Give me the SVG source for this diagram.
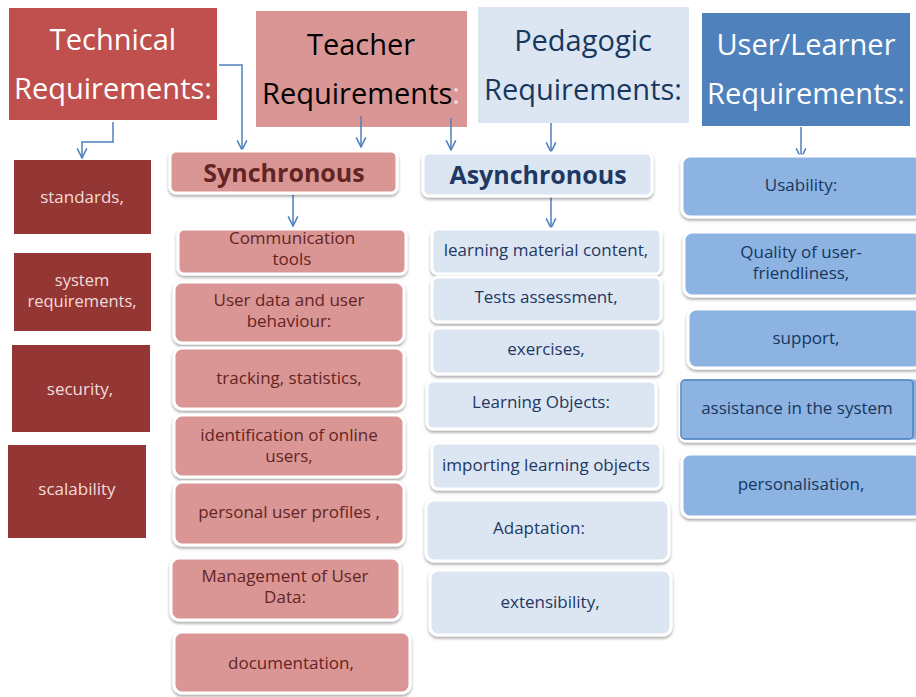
<svg xmlns="http://www.w3.org/2000/svg" width="916" height="697" viewBox="0 0 916 697">
<defs>
<filter id="sh" x="-10%" y="-10%" width="120%" height="130%">
<feDropShadow dx="0" dy="2" stdDeviation="1.5" flood-color="#000" flood-opacity="0.35"/>
</filter>
<marker id="arr" viewBox="0 0 10 10" refX="9" refY="5" markerWidth="12" markerHeight="12" orient="auto" markerUnits="userSpaceOnUse">
<path d="M1,1 L9,5 L1,9" fill="none" stroke="#4f81bd" stroke-width="1.3"/>
</marker>
<style>
text{font-family:"Open Sans","Liberation Sans",sans-serif;text-anchor:middle}
.hd{font-size:29px}
.it{font-size:17px}
.tech rect{fill:#943634}
.tech text{fill:#f2dcdb}
.sync rect{fill:#da9694;stroke:#fff;stroke-width:3;filter:url(#sh)}
.sync text{fill:#632523}
.async rect{fill:#dce6f2;stroke:#fff;stroke-width:3;filter:url(#sh)}
.async text{fill:#1f3864}
.usr rect{fill:#8db3e2;stroke:#fff;stroke-width:3;filter:url(#sh)}
.usr text{fill:#17375e}
.bold{font-weight:bold;font-size:25px}
.conn path{fill:none;stroke:#4f81bd;stroke-width:1.5;marker-end:url(#arr)}
</style>
</defs>
<rect width="916" height="697" fill="#fff"/>

<!-- headers -->
<g id="technical">
<rect x="9" y="8" width="208" height="112" fill="#c0504d"/>
<text class="hd" x="113" y="50" fill="#fff">Technical</text>
<text class="hd" x="113" y="99" fill="#fff">Requirements:</text>
</g>
<g id="teacher">
<rect x="256" y="11" width="211" height="116" fill="#da9694"/>
<text class="hd" x="361" y="55" fill="#000">Teacher</text>
<text class="hd" x="361" y="104" fill="#000">Requirements<tspan fill="#f2dcdb">:</tspan></text>
</g>
<g id="pedagogic">
<rect x="478" y="7" width="211" height="116" fill="#dce6f2"/>
<text class="hd" x="583" y="51" fill="#17375e">Pedagogic</text>
<text class="hd" x="583" y="100" fill="#17375e">Requirements:</text>
</g>
<g id="user">
<rect x="702" y="13" width="208" height="113" fill="#4f81bd"/>
<text class="hd" x="806" y="55" fill="#fff">User/Learner</text>
<text class="hd" x="806" y="104" fill="#fff">Requirements:</text>
</g>

<!-- connectors -->
<g id="connectors" class="conn">
<path d="M113,122 V142 H82 V158"/>
<path d="M219,65 H242 V150"/>
<path d="M361,116 V147"/>
<path d="M451,118 V150"/>
<path d="M551,123 V152"/>
<path d="M801,127 V158"/>
<path d="M293,195 V226"/>
<path d="M551,197 V228"/>
</g>

<!-- technical items -->
<g id="standards" class="tech"><rect x="14" y="160" width="137" height="74"/><text class="it" x="82" y="203">standards,</text></g>
<g id="system-requirements" class="tech"><rect x="14" y="253" width="137" height="78"/><text class="it" x="82" y="286" style="font-size:16.5px">system</text><text class="it" x="82" y="307" style="font-size:16.5px">requirements,</text></g>
<g id="security" class="tech"><rect x="12" y="345" width="138" height="87"/><text class="it" x="80" y="395">security,</text></g>
<g id="scalability" class="tech"><rect x="8" y="445" width="138" height="93"/><text class="it" x="77" y="495">scalability</text></g>

<!-- synchronous -->
<g id="synchronous" class="sync"><rect x="170" y="151" width="227" height="42" rx="6"/><text class="bold" x="284" y="182">Synchronous</text></g>
<g id="communication-tools" class="sync"><rect x="178" y="229" width="228" height="45" rx="6"/><text class="it" x="292" y="244">Communication</text><text class="it" x="292" y="265">tools</text></g>
<g id="user-data" class="sync"><rect x="174" y="282" width="230" height="61" rx="8"/><text class="it" x="289" y="306">User data and user</text><text class="it" x="289" y="327">behaviour:</text></g>
<g id="tracking" class="sync"><rect x="174" y="348" width="230" height="61" rx="8"/><text class="it" x="289" y="384">tracking, statistics,</text></g>
<g id="identification" class="sync"><rect x="174" y="415" width="230" height="62" rx="8"/><text class="it" x="289" y="441">identification of online</text><text class="it" x="289" y="462">users,</text></g>
<g id="personal-profiles" class="sync"><rect x="174" y="482" width="230" height="63" rx="8"/><text class="it" x="289" y="518">personal user profiles ,</text></g>
<g id="management" class="sync"><rect x="171" y="558" width="229" height="62" rx="8"/><text class="it" x="285" y="582">Management of User</text><text class="it" x="285" y="603">Data:</text></g>
<g id="documentation" class="sync"><rect x="174" y="632" width="236" height="61" rx="8"/><text class="it" x="291" y="669">documentation,</text></g>

<!-- asynchronous -->
<g id="asynchronous" class="async"><rect x="423" y="153" width="229" height="43" rx="6"/><text class="bold" x="538" y="184">Asynchronous</text></g>
<g id="learning-material" class="async"><rect x="432" y="229" width="229" height="45" rx="6"/><text class="it" x="546" y="256">learning material content,</text></g>
<g id="tests" class="async"><rect x="432" y="277" width="229" height="45" rx="6"/><text class="it" x="546" y="303">Tests assessment,</text></g>
<g id="exercises" class="async"><rect x="432" y="328" width="229" height="46" rx="6"/><text class="it" x="546" y="355">exercises,</text></g>
<g id="learning-objects" class="async"><rect x="427" y="381" width="229" height="48" rx="6"/><text class="it" x="541" y="408">Learning Objects:</text></g>
<g id="importing" class="async"><rect x="432" y="443" width="229" height="46" rx="6"/><text class="it" x="546" y="471">importing learning objects</text></g>
<g id="adaptation" class="async"><rect x="426" y="500" width="243" height="61" rx="8"/><text class="it" x="539" y="534">Adaptation:</text></g>
<g id="extensibility" class="async"><rect x="430" y="570" width="241" height="65" rx="8"/><text class="it" x="550" y="608">extensibility,</text></g>

<!-- user/learner -->
<g id="usability" class="usr"><rect x="682" y="156" width="240" height="61" rx="8"/><text class="it" x="801" y="191">Usability:</text></g>
<g id="quality" class="usr"><rect x="684" y="232" width="238" height="64" rx="8"/><text class="it" x="801" y="258">Quality of user-</text><text class="it" x="801" y="279">friendliness,</text></g>
<g id="support" class="usr"><rect x="688" y="309" width="234" height="59" rx="8"/><text class="it" x="806" y="344">support,</text></g>
<g id="assistance" class="usr"><rect x="680" y="378" width="240" height="63" rx="6"/><rect x="681" y="380" width="232" height="59" rx="4" style="fill:none;stroke:#4f81bd;stroke-width:1.5;filter:none"/><text class="it" x="797" y="414">assistance in the system</text></g>
<g id="personalisation" class="usr"><rect x="682" y="454" width="240" height="63" rx="8"/><text class="it" x="801" y="490">personalisation,</text></g>
</svg>
